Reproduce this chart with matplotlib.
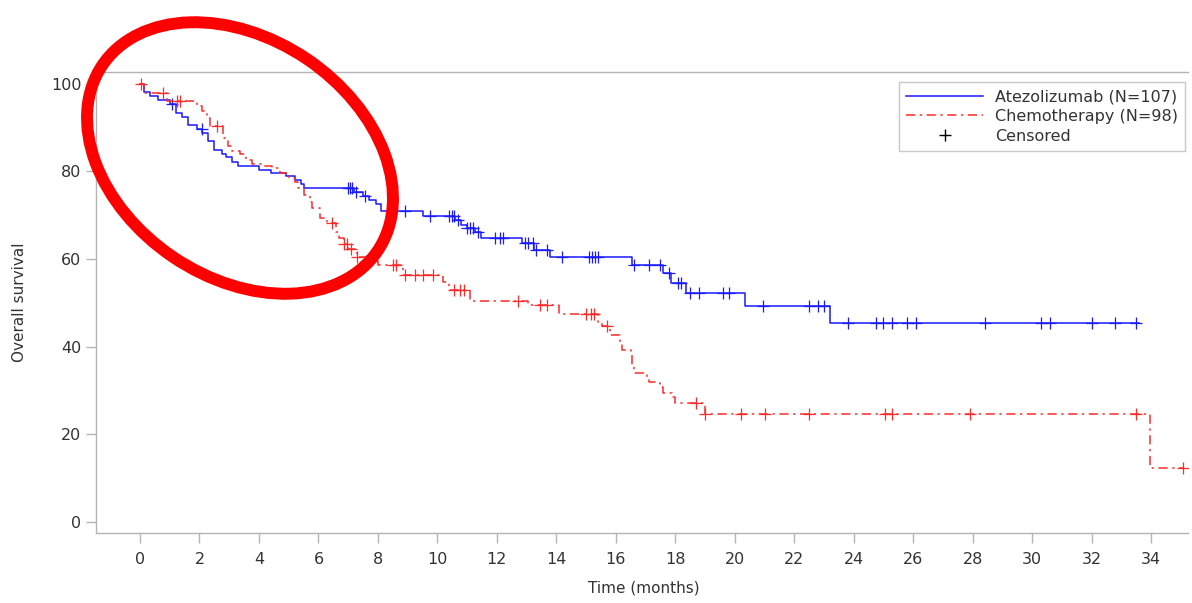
import numpy as np
import matplotlib
matplotlib.use("Agg")
import matplotlib.pyplot as plt
from matplotlib.patches import Ellipse
from matplotlib.lines import Line2D

plt.rcParams["font.family"] = ["DejaVu Sans"]

# Kaplan-Meier steps (time in months, survival %)
atezo_t = [0, 0.15, 0.35, 0.6, 1.0, 1.2, 1.4, 1.6, 1.9, 2.1, 2.3, 2.5, 2.75, 2.9, 3.1, 3.3,
           4.0, 4.4, 4.9, 5.2, 5.4, 5.5, 7.2, 7.5, 7.7, 7.95, 8.1, 9.5, 10.6, 10.8, 11.0,
           11.25, 11.45, 12.85, 13.25, 13.8, 16.55, 17.6, 17.85, 18.35, 20.35, 23.2]
atezo_s = [100, 98.1, 97.2, 96.3, 95.3, 93.4, 92.5, 90.6, 89.7, 88.8, 86.9, 85.0, 84.1, 83.2,
           82.2, 81.3, 80.4, 79.7, 79.0, 78.0, 77.2, 76.3, 75.3, 74.4, 73.5, 72.5, 71.0, 69.9,
           69.0, 67.8, 67.1, 66.2, 64.8, 63.7, 62.1, 60.5, 58.7, 56.8, 54.6, 52.3, 49.3, 45.4]
atezo_end = 33.6
atezo_cens = [1.08, 2.08, 7.0, 7.06, 7.13, 7.26, 7.57, 8.9, 9.75, 10.4, 10.5, 10.55, 10.7,
              11.0, 11.1, 11.2, 11.37, 11.94, 12.1, 12.2, 12.95, 13.05, 13.2, 13.3, 13.7,
              14.2, 15.1, 15.2, 15.3, 15.4, 16.6, 17.1, 17.5, 17.8, 18.1, 18.2, 18.5, 18.8,
              19.6, 19.8, 20.95, 22.5, 22.8, 23.0, 23.8, 24.75, 25.0, 25.3, 25.8, 26.1,
              28.4, 30.3, 30.6, 32.0, 32.8, 33.5]

chemo_t = [0, 0.15, 0.9, 1.9, 2.1, 2.25, 2.35, 2.8, 2.95, 3.1, 3.35, 3.55, 3.75, 4.15, 4.45,
           4.7, 5.0, 5.2, 5.3, 5.5, 5.7, 5.8, 6.05, 6.3, 6.6, 6.7, 6.85, 7.0, 7.3, 7.6, 8.0,
           8.85, 10.2, 10.4, 11.1, 13.05, 14.1, 15.4, 15.55, 15.8, 16.15, 16.2, 16.5, 16.55,
           16.6, 17.05, 17.1, 17.35, 17.5, 17.6, 17.9, 18.0, 19.0, 33.95]
chemo_s = [100, 97.9, 96.1, 95.0, 93.8, 92.2, 90.3, 87.7, 85.8, 84.7, 84.0, 82.6, 81.7, 81.3,
           80.8, 79.7, 78.5, 77.6, 76.3, 74.7, 73.1, 71.7, 69.4, 68.2, 66.2, 64.8, 63.4, 62.3,
           60.5, 59.6, 58.7, 56.4, 54.8, 53.0, 50.5, 49.5, 47.5, 45.7, 44.7, 42.7, 41.1, 39.3,
           38.1, 35.8, 34.0, 32.9, 32.0, 31.7, 30.8, 29.5, 28.5, 27.2, 24.6, 12.3]
chemo_end = 35.07
chemo_cens = [0.02, 0.77, 1.25, 1.35, 2.6, 6.45, 6.85, 6.95, 7.1, 7.3, 7.6, 8.5, 8.6, 8.9,
              9.25, 9.5, 9.85, 10.55, 10.75, 10.9, 12.7, 13.45, 13.7, 15.0, 15.15, 15.25,
              15.7, 18.7, 19.0, 20.2, 21.0, 22.5, 25.05, 25.3, 27.9, 33.5, 35.07]

x_ticks = list(range(0, 35, 2))
y_ticks = [0, 20, 40, 60, 80, 100]

BLUE = "#1a1aff"
RED = "#ff2a2a"
GRID = "#b4b4b4"
TXT = "#333333"
DASHDOT = (0, (6, 3, 1.5, 3))


def km(ax, t, s, end, cens, color, ls, label):
    tt = np.append(t, end)
    ss = np.append(s, s[-1])
    ax.step(tt, ss, where="post", color=color, lw=1.1, ls=ls, label=label)
    idx = np.searchsorted(t, cens, side="right") - 1
    cy = np.asarray(s)[idx]
    ax.plot(cens, cy, ls="none", marker="+", ms=8.5, mew=0.9, color=color)


fig = plt.figure(figsize=(11.92, 6.03), dpi=100)
ax = fig.add_axes([96 / 1192, 1 - 533 / 603, (1188 - 96) / 1192, (533 - 72) / 603])

km(ax, atezo_t, atezo_s, atezo_end, atezo_cens, BLUE, "-", "Atezolizumab (N=107)")
km(ax, chemo_t, chemo_s, chemo_end, chemo_cens, RED, DASHDOT, "Chemotherapy (N=98)")

ax.set_xlim(-1.48, 35.24)
ax.set_ylim(-2.5, 102.7)
ax.set_xticks(x_ticks)
ax.set_yticks(y_ticks)
ax.tick_params(axis="both", colors=GRID, labelcolor=TXT, labelsize=11.5, length=7, width=1)
ax.tick_params(axis="x", pad=7)
for side in ["left", "top", "bottom"]:
    ax.spines[side].set_color(GRID)
    ax.spines[side].set_linewidth(1)
ax.spines["right"].set_visible(False)
ax.set_xlabel("Time (months)", fontsize=11, color=TXT)
ax.set_ylabel("Overall survival", fontsize=11, color=TXT)
ax.xaxis.set_label_coords(0.502, -0.104)
ax.yaxis.set_label_coords(-0.063, 0.5)

handles = [Line2D([], [], color=BLUE, lw=1.1),
           Line2D([], [], color=RED, lw=1.1, ls=DASHDOT),
           Line2D([], [], color="black", ls="none", marker="+", ms=9, mew=1)]
labels = ["Atezolizumab (N=107)", "Chemotherapy (N=98)", "Censored"]
leg = ax.legend(handles, labels, loc="upper right", bbox_to_anchor=(1185 / 1192, 1 - 82 / 603),
                bbox_transform=fig.transFigure, fontsize=11.5, handlelength=4.8,
                handletextpad=0.75, labelspacing=0.3, borderpad=0.45, fancybox=False,
                framealpha=1, edgecolor="#c8c8c8", borderaxespad=0)
for txt in leg.get_texts():
    txt.set_color(TXT)

# red highlight ring drawn over the early part of the curves
ring = Ellipse((240 / 100, (603 - 158) / 100), 3.32, 2.39, angle=-34, fill=False,
               edgecolor="red", lw=8.6, transform=fig.dpi_scale_trans, clip_on=False)
fig.add_artist(ring)

fig.savefig("out.png", dpi=100)
